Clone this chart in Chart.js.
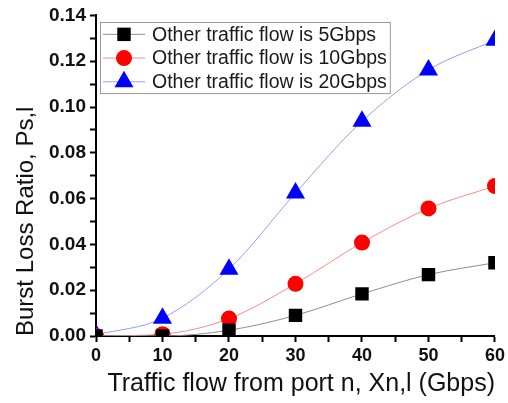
<!DOCTYPE html>
<html>
<head>
<meta charset="utf-8">
<script src="https://cdn.jsdelivr.net/npm/chart.js@4/dist/chart.umd.min.js"></script>
<style>
  html, body { margin: 0; padding: 0; background: #ffffff; }
  #wrap { position: relative; width: 508px; height: 403px; }
</style>
</head>
<body>
<div id="wrap"><canvas id="lossChart" width="508" height="403"></canvas></div>
<script>
// traffic flow from port n (Gbps)
const flow = [0, 10, 20, 30, 40, 50, 60];
// burst loss ratio for each level of other traffic
const loss5G = [0, 0, 0.0025, 0.009, 0.0184, 0.0268, 0.032];
const loss10G = [0, 0.0008, 0.0076, 0.0228, 0.0408, 0.0557, 0.0655];
const loss20G = [0.0005, 0.0078, 0.0292, 0.0624, 0.0938, 0.1162, 0.1292];
const seriesLabels = ['Other traffic flow is 5Gbps', 'Other traffic flow is 10Gbps', 'Other traffic flow is 20Gbps'];
const yTicks = [0, 0.02, 0.04, 0.06, 0.08, 0.10, 0.12, 0.14];
const xTicks = [0, 10, 20, 30, 40, 50, 60];

const fontFamily = '"Liberation Sans", Arial, sans-serif';

function pts(values) {
    return values.map((v, i) => ({ x: flow[i], y: v }));
}

function drawMarker(ctx, style, x, y, r) {
    ctx.beginPath();
    if (style === 'rect') {
        const s = Math.SQRT1_2 * r;
        ctx.rect(x - s, y - s, 2 * s, 2 * s);
    } else if (style === 'triangle') {
        let a = 0;
        ctx.moveTo(x + Math.sin(a) * r, y - Math.cos(a) * r);
        a += 2 * Math.PI / 3;
        ctx.lineTo(x + Math.sin(a) * r, y - Math.cos(a) * r);
        a += 2 * Math.PI / 3;
        ctx.lineTo(x + Math.sin(a) * r, y - Math.cos(a) * r);
        ctx.closePath();
    } else {
        ctx.arc(x, y, r, 0, Math.PI * 2);
    }
    ctx.fill();
}

// legend drawn as a framed box inside the plot area
const boxLegend = {
    id: 'boxLegend',
    afterDraw(chart) {
        const ctx = chart.ctx;
        const left = 100, top = 22, rowH = 23.7;
        ctx.save();
        ctx.font = '19.5px ' + fontFamily;
        const sets = chart.data.datasets;
        const textW = Math.max(...sets.map((d) => ctx.measureText(d.label).width));
        const w = 52 + textW + 3;
        const h = rowH * sets.length;
        ctx.fillStyle = '#ffffff';
        ctx.fillRect(left, top, w, h);
        ctx.strokeStyle = '#9a9a9a';
        ctx.lineWidth = 1;
        ctx.strokeRect(left + 0.5, top + 0.5, w, h);
        sets.forEach((d, i) => {
            const cy = top + rowH / 2 + i * rowH + 0.5;
            ctx.strokeStyle = d.borderColor;
            ctx.lineWidth = 1;
            ctx.beginPath();
            ctx.moveTo(left + 3, cy);
            ctx.lineTo(left + 45, cy);
            ctx.stroke();
            ctx.fillStyle = d.pointBackgroundColor;
            drawMarker(ctx, d.pointStyle, left + 24, cy, d.pointRadius);
            ctx.fillStyle = '#1a1a1a';
            ctx.textBaseline = 'middle';
            ctx.textAlign = 'left';
            ctx.fillText(d.label, left + 52, cy + 1);
        });
        ctx.restore();
    },
};

new Chart(document.getElementById('lossChart'), {
    type: 'line',
    data: {
        datasets: [
            {
                label: seriesLabels[0],
                data: pts(loss5G),
                borderColor: '#8e8e8e',
                borderWidth: 1,
                pointStyle: 'rect',
                pointRadius: 9.5,
                pointBackgroundColor: '#000000',
                pointBorderWidth: 0,
                cubicInterpolationMode: 'monotone',
                clip: 0,
            },
            {
                label: seriesLabels[1],
                data: pts(loss10G),
                borderColor: '#ff8a8a',
                borderWidth: 1,
                pointStyle: 'circle',
                pointRadius: 8,
                pointBackgroundColor: '#ff0000',
                pointBorderWidth: 0,
                cubicInterpolationMode: 'monotone',
                clip: 0,
            },
            {
                label: seriesLabels[2],
                data: pts(loss20G),
                borderColor: '#9a9aff',
                borderWidth: 1,
                pointStyle: 'triangle',
                pointRadius: 11,
                pointBackgroundColor: '#0000ff',
                pointBorderWidth: 0,
                cubicInterpolationMode: 'monotone',
                clip: 0,
            },
        ],
    },
    options: {
        responsive: false,
        animation: false,
        layout: {
            padding: { left: 0, right: 11, top: 14, bottom: 0 },
        },
        plugins: {
            legend: { display: false },
            tooltip: { enabled: false },
        },
        scales: {
            x: {
                type: 'linear',
                min: 0,
                max: 60,
                afterFit: (s) => { s.height = 67; },
                border: { color: '#000000', width: 2 },
                grid: { drawOnChartArea: false, tickLength: 6, tickColor: '#000000', tickWidth: 2 },
                ticks: {
                    stepSize: 5,
                    autoSkip: false,
                    maxRotation: 0,
                    padding: 3,
                    color: '#111111',
                    font: { family: fontFamily, size: 18, weight: 'bold' },
                    callback: (v) => (xTicks.includes(v) ? String(v) : ''),
                },
                title: {
                    display: true,
                    text: 'Traffic flow from port n, Xn,l (Gbps)',
                    align: 'end',
                    color: '#111111',
                    font: { family: fontFamily, size: 25 },
                    padding: { top: 0, bottom: 4 },
                },
            },
            y: {
                min: 0,
                max: 0.14,
                afterFit: (s) => { s.width = 96; },
                border: { color: '#000000', width: 2 },
                grid: { drawOnChartArea: false, tickLength: 6, tickColor: '#000000', tickWidth: 2 },
                ticks: {
                    stepSize: 0.01,
                    autoSkip: false,
                    padding: 4,
                    color: '#111111',
                    font: { family: fontFamily, size: 19, weight: 'bold' },
                    callback: (v) => {
                        const hit = yTicks.find((t) => Math.abs(t - v) < 1e-6);
                        return hit === undefined ? '' : hit.toFixed(2);
                    },
                },
                title: {
                    display: true,
                    text: 'Burst Loss Ratio, Ps,l',
                    align: 'start',
                    color: '#111111',
                    font: { family: fontFamily, size: 24 },
                    padding: { top: 12, bottom: 0 },
                },
            },
        },
    },
    plugins: [boxLegend],
});
</script>
</body>
</html>
